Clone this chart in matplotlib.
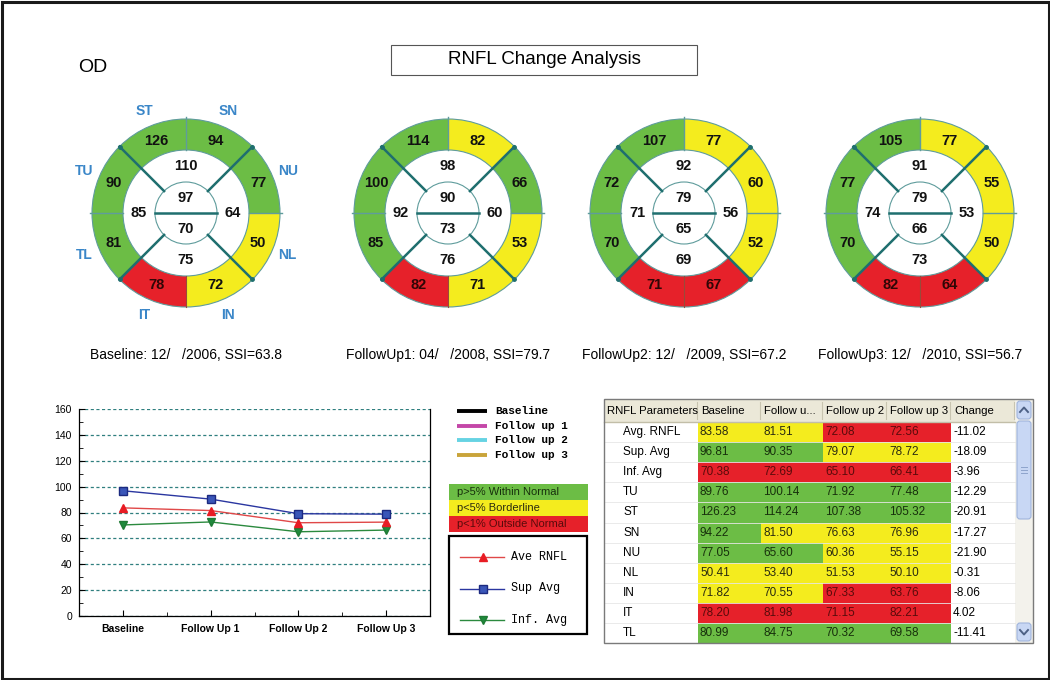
import numpy as np
import matplotlib.pyplot as plt
from matplotlib.patches import Wedge, Circle, Rectangle, FancyBboxPatch
import matplotlib.transforms as mtransforms

plt.rcParams['font.family'] = ['Liberation Sans', 'DejaVu Sans']

# ---------------- data ----------------
params = ['Avg. RNFL', 'Sup. Avg', 'Inf. Avg', 'TU', 'ST', 'SN', 'NU', 'NL', 'IN', 'IT', 'TL']
baseline = [83.58, 96.81, 70.38, 89.76, 126.23, 94.22, 77.05, 50.41, 71.82, 78.20, 80.99]
follow1 = [81.51, 90.35, 72.69, 100.14, 114.24, 81.50, 65.60, 53.40, 70.55, 81.98, 84.75]
follow2 = [72.08, 79.07, 65.10, 71.92, 107.38, 76.63, 60.36, 51.53, 67.33, 71.15, 70.32]
follow3 = [72.56, 78.72, 66.41, 77.48, 105.32, 76.96, 55.15, 50.10, 63.76, 82.21, 69.58]
change = [-11.02, -18.09, -3.96, -12.29, -20.91, -17.27, -21.90, -0.31, -8.06, 4.02, -11.41]

# G = within normal, Y = borderline, R = outside normal
flags_base = 'YGRGGGGYYRG'
flags_fu1 = 'YGRGGYGYYRG'
flags_fu2 = 'RYRGGYYYRRG'
flags_fu3 = 'RYRGGYYYRRG'

# quadrant values S, T, N, I (white ring)
quad_base = [110, 85, 64, 75]
quad_fu1 = [98, 92, 60, 76]
quad_fu2 = [92, 71, 56, 69]
quad_fu3 = [91, 74, 53, 73]

visit_names = ['Baseline', 'FollowUp1', 'FollowUp2', 'FollowUp3']
visit_dates = ['12/   /2006', '04/   /2008', '12/   /2009', '12/   /2010']
visit_ssi = [63.8, 79.7, 67.2, 56.7]

headers = ['RNFL Parameters', 'Baseline', 'Follow u...', 'Follow up 2', 'Follow up 3', 'Change']
trend_x = ['Baseline', 'Follow Up 1', 'Follow Up 2', 'Follow Up 3']
trend_names = ['Ave RNFL', 'Sup Avg', 'Inf. Avg']
visit_legend = ['Baseline', 'Follow up 1', 'Follow up 2', 'Follow up 3']
key_labels = ['p>5% Within Normal', 'p<5% Borderline', 'p<1% Outside Normal']

columns = [baseline, follow1, follow2, follow3]
flags = [flags_base, flags_fu1, flags_fu2, flags_fu3]
quads = [quad_base, quad_fu1, quad_fu2, quad_fu3]

# ---------------- styles ----------------
fill = {'G': '#6cbd45', 'Y': '#f4ec1e', 'R': '#e6212a'}
ink = {'G': '#17300c', 'Y': '#2a2a10', 'R': '#5a0b0b'}
TEAL = '#1f6f6f'
TEAL_L = '#5f9c9c'
BLUE_LBL = '#3a86c8'

fig = plt.figure(figsize=(10.5, 6.8), dpi=100)
bg = fig.add_axes([0, 0, 1, 1])
bg.set_xlim(0, 1050)
bg.set_ylim(680, 0)
bg.axis('off')

# outer frame
bg.add_patch(Rectangle((1.5, 1.5), 1047, 677, fill=False, lw=2.2, ec='#1a1a1a'))

# title
bg.add_patch(Rectangle((391, 45), 306, 30, fill=False, ec='#555555', lw=0.8))
bg.text(544, 60, 'RNFL Change Analysis', ha='center', va='center', fontsize=13.5)
bg.text(78, 67, 'OD', ha='left', va='center', fontsize=14)


def shown(v):
    return int(np.floor(v + 0.5))


def pt(cx, cy, r, a):
    t = np.deg2rad(a)
    return cx + r * np.cos(t), cy - r * np.sin(t)


R_OUT, R_MID, R_IN = 94, 63, 31
sector_rows = [3, 4, 5, 6, 7, 8, 9, 10]   # TU ST SN NU NL IN IT TL


def ring(cx, cy, col, flg, quad, names=False):
    mids = 157.5 - 45 * np.arange(8)
    for a, ri in zip(mids, sector_rows):
        bg.add_patch(Wedge((cx, cy), R_OUT, -(a + 22.5), -(a - 22.5),
                           width=R_OUT - R_MID, fc=fill[flg[ri]], ec='none', zorder=1))
        x, y = pt(cx, cy, 78, a)
        bg.text(x, y, str(shown(col[ri])), ha='center', va='center', fontsize=10.5,
                weight='bold', color='#111111' if flg[ri] != 'R' else '#300606', zorder=5)
        if names:
            x, y = pt(cx, cy, 110, a)
            bg.text(x, y, params[ri], ha='center', va='center', fontsize=10,
                    weight='bold', color=BLUE_LBL)
    for r in (R_OUT, R_MID, R_IN):
        bg.add_patch(Circle((cx, cy), r, fill=False, ec=TEAL_L, lw=0.8, zorder=2))
    for a in (0, 90, 180):
        (x0, y0), (x1, y1) = pt(cx, cy, R_MID, a), pt(cx, cy, R_OUT + 2, a)
        bg.plot([x0, x1], [y0, y1], color=TEAL_L, lw=1, zorder=3)
    (x0, y0), (x1, y1) = pt(cx, cy, R_MID, 270), pt(cx, cy, R_OUT, 270)
    bg.plot([x0, x1], [y0, y1], color='#9a4a3a', lw=0.8, zorder=3)
    for a in (45, 135, 225, 315):
        (x0, y0), (x1, y1) = pt(cx, cy, R_IN, a), pt(cx, cy, R_OUT, a)
        bg.plot([x0, x1], [y0, y1], color=TEAL, lw=1.8, zorder=3)
        bg.plot([x1], [y1], 'o', ms=2.5, color=TEAL, zorder=3)
    bg.plot([cx - R_IN, cx + R_IN], [cy, cy], color=TEAL, lw=1.8, zorder=3)
    for v, a in zip(quad, (90, 180, 0, 270)):
        x, y = pt(cx, cy, 47, a)
        bg.text(x, y, str(v), ha='center', va='center', fontsize=10.5,
                weight='bold', color='#111111', zorder=5)
    bg.text(cx, cy - 15, str(shown(col[1])), ha='center', va='center', fontsize=10.5,
            weight='bold', color='#111111', zorder=5)
    bg.text(cx, cy + 16, str(shown(col[2])), ha='center', va='center', fontsize=10.5,
            weight='bold', color='#111111', zorder=5)


ring_cx = [186, 448, 684, 920]
for i in range(4):
    ring(ring_cx[i], 213, columns[i], flags[i], quads[i], names=(i == 0))
    bg.text(ring_cx[i], 355, f'{visit_names[i]}: {visit_dates[i]}, SSI={visit_ssi[i]}',
            ha='center', va='center', fontsize=10)

# ---------------- trend chart ----------------
ax = fig.add_axes([79 / 1050, 1 - 616 / 680, 351 / 1050, 207 / 680])
xs = np.arange(len(trend_x))
avg_series = [c[0] for c in columns]
sup_series = [c[1] for c in columns]
inf_series = [c[2] for c in columns]
ax.plot(xs, inf_series, color='#2b8a3e', lw=1, marker='v', ms=6, mfc='#1f8a3c', mec='#1f7a34', zorder=3)
ax.plot(xs, avg_series, color='#e04848', lw=1, marker='^', ms=6, mfc='#e81c24', mec='#e81c24', zorder=3)
ax.plot(xs, sup_series, color='#2a36a0', lw=1, marker='s', ms=5.5, mfc='#3a56b8', mec='#1c2a80', zorder=3)
ax.set_xlim(-0.5, 3.5)
ax.set_ylim(0, 160)
ax.set_yticks(range(0, 161, 20))
ax.set_yticks(range(10, 160, 20), minor=True)
ax.set_xticks(xs)
ax.set_xticks(np.arange(-0.5, 3.6, 0.5), minor=True)
ax.set_xticklabels(trend_x, fontsize=7.5, weight='bold')
for lab, off in zip(ax.get_xticklabels(), [-16, -14, 0, 11]):
    lab.set_transform(lab.get_transform() + mtransforms.ScaledTranslation(off / 100, 0, fig.dpi_scale_trans))
ax.tick_params(axis='y', labelsize=7.5, direction='in', length=4, pad=5, right=False)
ax.tick_params(axis='y', which='minor', direction='in', length=3)
ax.tick_params(axis='x', direction='in', length=4, pad=6)
ax.tick_params(axis='x', which='minor', direction='in', length=3)
ax.yaxis.grid(True, color='#2f7f7f', ls=(0, (2.5, 2)), lw=0.9)
ax.spines['top'].set_visible(False)
for s in ('left', 'bottom', 'right'):
    ax.spines[s].set_linewidth(0.9)

# visit legend
visit_colors = ['#000000', '#c447a8', '#66d3e3', '#c9a43a']
for i, (name, c) in enumerate(zip(visit_legend, visit_colors)):
    y = 411 + 14.6 * i
    bg.plot([457, 487], [y, y], color=c, lw=2.8, solid_capstyle='butt')
    bg.text(495, y, name, family='Liberation Mono', weight='bold', fontsize=8, va='center')

# significance key
for i, (lab, k) in enumerate(zip(key_labels, 'GYR')):
    y0 = 484 + 16 * i
    bg.add_patch(Rectangle((449, y0), 139, 16, fc=fill[k], ec='none'))
    bg.text(457, y0 + 8, lab, fontsize=8, color=ink[k], va='center')

# trend legend
bg.add_patch(Rectangle((449, 536), 138, 98, fill=False, ec='black', lw=1.6))
leg_style = [('#e04848', '^', '#e81c24', '#e81c24'),
             ('#2a36a0', 's', '#3a56b8', '#1c2a80'),
             ('#2b8a3e', 'v', '#1f8a3c', '#1f7a34')]
for i, (name, (c, m, mfc, mec)) in enumerate(zip(trend_names, leg_style)):
    y = 557 + 31.5 * i
    bg.plot([460, 504], [y, y], color=c, lw=1)
    bg.plot([483], [y], marker=m, ms=6, mfc=mfc, mec=mec)
    bg.text(511, y, name, family='Liberation Mono', fontsize=8.5, va='center')

# ---------------- table ----------------
col_edges = [604, 698, 761, 823, 887, 951, 1015]
t_top, head_h, row_h = 399, 23, 20.1
body_top = t_top + head_h
bg.add_patch(Rectangle((604, t_top), 411, head_h, fc='#ebe8d8', ec='none', zorder=1))
bg.plot([604, 1015], [body_top, body_top], color='#c2bea8', lw=1, zorder=2)
for i, h in enumerate(headers):
    bg.plot([col_edges[i + 1] - 1, col_edges[i + 1] - 1], [t_top + 3, body_top - 3],
            color='#c8c4b0', lw=0.8, zorder=2)
    bg.text(col_edges[i] + 3, t_top + head_h / 2, h, fontsize=8.2, va='center', zorder=3)

for r, name in enumerate(params):
    y0 = body_top + r * row_h
    yc = y0 + row_h / 2
    bg.text(623, yc, name, fontsize=8.5, va='center', zorder=3)
    for j, (col, flg) in enumerate(zip(columns, flags)):
        bg.add_patch(Rectangle((col_edges[j + 1], y0), col_edges[j + 2] - col_edges[j + 1], row_h,
                               fc=fill[flg[r]], ec='none', zorder=1))
        bg.text(col_edges[j + 1] + 2, yc, f'{col[r]:.2f}', fontsize=8.5, va='center',
                color=ink[flg[r]], zorder=3)
    bg.text(col_edges[5] + 2, yc, f'{change[r]:.2f}', fontsize=8.5, va='center', zorder=3)
    if r < len(params) - 1:
        bg.plot([604, 1015], [y0 + row_h, y0 + row_h], color='#e6e6e6', lw=0.6, zorder=2)

# scrollbar
bg.add_patch(Rectangle((1015, t_top), 18, 244, fc='#f3f2ec', ec='none', zorder=1))
for (y0, h) in [(401, 18), (421, 98), (623, 18)]:
    bg.add_patch(FancyBboxPatch((1017, y0), 14, h, boxstyle='round,pad=0,rounding_size=3',
                                fc='#c8d7f4', ec='#9fb4dc', lw=0.8, zorder=2))
bg.plot([1020, 1024, 1028], [412, 407.5, 412], color='#4d6185', lw=1.4, zorder=3)
bg.plot([1020, 1024, 1028], [630, 634.5, 630], color='#4d6185', lw=1.4, zorder=3)
for dy in (-3, 0, 3):
    bg.plot([1021, 1027], [470 + dy, 470 + dy], color='#8ea4cc', lw=0.7, zorder=3)
bg.add_patch(Rectangle((604, t_top), 429, 244, fill=False, ec='#7a7a7a', lw=1, zorder=4))

fig.savefig('out.png', dpi=100)
